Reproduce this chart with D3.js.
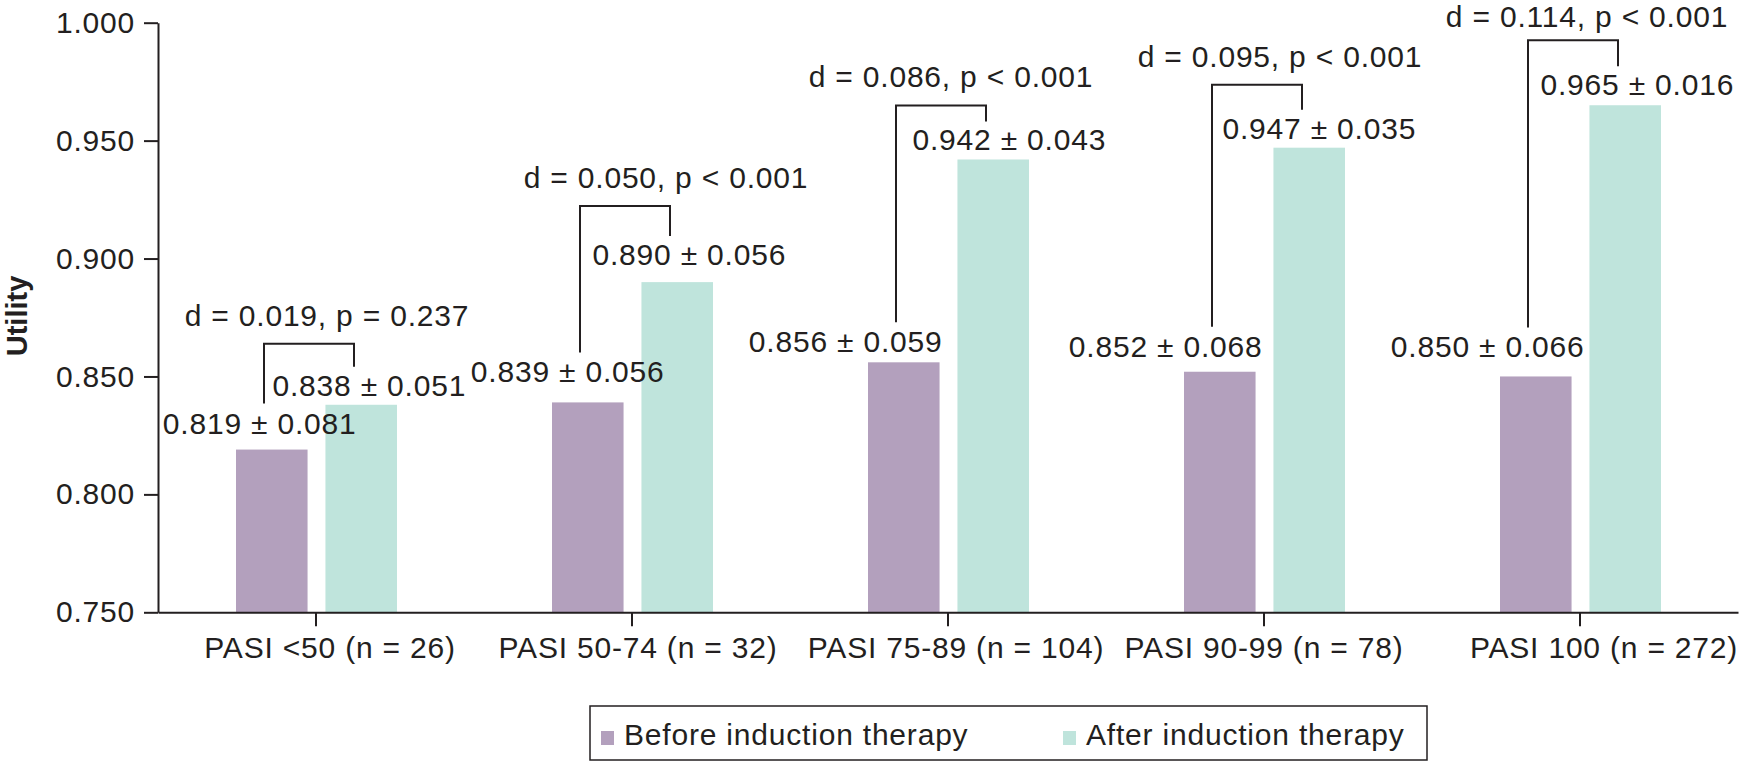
<!DOCTYPE html>
<html>
<head>
<meta charset="utf-8">
<script src="https://cdn.jsdelivr.net/npm/d3@7"></script>
<style>
  html, body { margin: 0; padding: 0; background: #fff; }
  text { font-family: "Liberation Sans", Arial, Helvetica, sans-serif; fill: #231f20; }
</style>
</head>
<body>
<div id="chart"></div>
<script>
// data
const categories = ['PASI <50 (n = 26)', 'PASI 50-74 (n = 32)', 'PASI 75-89 (n = 104)', 'PASI 90-99 (n = 78)', 'PASI 100 (n = 272)'];
const seriesNames = ['Before induction therapy', 'After induction therapy'];
const beforeMean = [0.819, 0.839, 0.856, 0.852, 0.850];
const beforeSD = [0.081, 0.056, 0.059, 0.068, 0.066];
const afterMean = [0.838, 0.890, 0.942, 0.947, 0.965];
const afterSD = [0.051, 0.056, 0.043, 0.035, 0.016];
const diffD = [0.019, 0.050, 0.086, 0.095, 0.114];
const pTexts = ['p = 0.237', 'p < 0.001', 'p < 0.001', 'p < 0.001', 'p < 0.001'];
const yTicks = [0.750, 0.800, 0.850, 0.900, 0.950, 1.000];

// hand placed annotation nudges (layout only)
const beforeLabelDx = [49, 41, 3, 7, 13];
const beforeLabelDy = [16, 20, 10, 15, 19];
const afterLabelDx = [-53, -49, -45, -51, -49];
const afterLabelDy = [9, 17, 9, 9, 10];
const bracketRise = [52, 59, 45, 54, 55];
const statDx = [18, 41, 10, 23, 14];
const catLabelDx = [14, 6, 8, 0, 24];

const width = 1740, height = 762;
const colors = ['#b3a0bd', '#bfe4dc'];
const ink = '#231f20';
const fontSize = 30;

const svg = d3.select('#chart').append('svg')
  .attr('width', width)
  .attr('height', height);

const y = d3.scaleLinear().domain([0.75, 1.0]).range([612.3, 22.7]);
const x0 = d3.scaleBand().domain(categories).range([158, 1738]).padding(0);
const x1 = d3.scaleBand().domain(seriesNames).range([-80, 81]).paddingInner(0.2);

const center = (c) => x0(c) + x0.bandwidth() / 2;

// bars
const rows = categories.map((c, i) => ({ cat: c, i: i, vals: [beforeMean[i], afterMean[i]] }));

const groups = svg.append('g').selectAll('g')
  .data(rows)
  .join('g')
  .attr('transform', d => `translate(${center(d.cat)},0)`);

groups.selectAll('rect')
  .data(d => d.vals.map((v, k) => ({ key: seriesNames[k], v: v, k: k })))
  .join('rect')
  .attr('x', d => x1(d.key))
  .attr('y', d => y(d.v))
  .attr('width', x1.bandwidth())
  .attr('height', d => y(0.75) - y(d.v))
  .attr('fill', d => colors[d.k]);

// axes
const yAxis = d3.axisLeft(y)
  .tickValues(yTicks)
  .tickFormat(d3.format('.3f'))
  .tickSize(14)
  .tickSizeOuter(0)
  .tickPadding(9);

const gy = svg.append('g')
  .attr('transform', 'translate(158,0)')
  .call(yAxis);

const xAxis = d3.axisBottom(x0)
  .tickSize(14)
  .tickSizeOuter(0)
  .tickPadding(10);

const gx = svg.append('g')
  .attr('transform', `translate(0,${y(0.75)})`)
  .call(xAxis);

[gx, gy].forEach(g => {
  g.selectAll('path, line').attr('stroke', ink).attr('stroke-width', 2);
  g.selectAll('text')
    .attr('font-size', fontSize)
    .attr('letter-spacing', '0.8px')
    .attr('fill', ink)
    .style('font-family', '"Liberation Sans", Arial, Helvetica, sans-serif');
});
gx.selectAll('.tick text').attr('dx', (d, i) => catLabelDx[i]);

// y title
svg.append('text')
  .attr('transform', 'translate(27,316) rotate(-90)')
  .attr('text-anchor', 'middle')
  .attr('font-size', 29)
  .attr('font-weight', 'bold')
  .text('Utility');

// value labels, brackets, stats
const fmt = d3.format('.3f');
const ann = svg.append('g').attr('font-size', fontSize).attr('letter-spacing', '0.8px');

rows.forEach(d => {
  const i = d.i;
  const c = center(d.cat);
  const bTop = y(beforeMean[i]);
  const aTop = y(afterMean[i]);
  const bBase = bTop - beforeLabelDy[i];
  const aBase = aTop - afterLabelDy[i];
  const top = aBase - bracketRise[i];
  const lx = c - 52, rx = c + 38;

  ann.append('text')
    .attr('x', c + x1(seriesNames[0]) + x1.bandwidth() + beforeLabelDx[i])
    .attr('y', bBase)
    .attr('text-anchor', 'end')
    .text(`${fmt(beforeMean[i])} \u00b1 ${fmt(beforeSD[i])}`);

  ann.append('text')
    .attr('x', c + x1(seriesNames[1]) + afterLabelDx[i])
    .attr('y', aBase)
    .attr('text-anchor', 'start')
    .text(`${fmt(afterMean[i])} \u00b1 ${fmt(afterSD[i])}`);

  ann.append('path')
    .attr('d', `M${lx},${bBase - 30}V${top}H${rx}V${aBase - 29}`)
    .attr('fill', 'none')
    .attr('stroke', ink)
    .attr('stroke-width', 2);

  ann.append('text')
    .attr('x', (lx + rx) / 2 + statDx[i])
    .attr('y', Math.max(top - 18, 27))
    .attr('text-anchor', 'middle')
    .text(`d = ${fmt(diffD[i])}, ${pTexts[i]}`);
});

// legend
const legend = svg.append('g');
legend.append('rect')
  .attr('x', 590).attr('y', 706)
  .attr('width', 837).attr('height', 54)
  .attr('fill', 'none')
  .attr('stroke', ink)
  .attr('stroke-width', 1.5);

const legendX = [601, 1063];
seriesNames.forEach((s, k) => {
  legend.append('rect')
    .attr('x', legendX[k]).attr('y', 731)
    .attr('width', 13).attr('height', 14)
    .attr('fill', colors[k]);
  legend.append('text')
    .attr('x', legendX[k] + 23)
    .attr('y', 745)
    .attr('font-size', fontSize)
    .attr('letter-spacing', '0.8px')
    .text(s);
});
</script>
</body>
</html>
